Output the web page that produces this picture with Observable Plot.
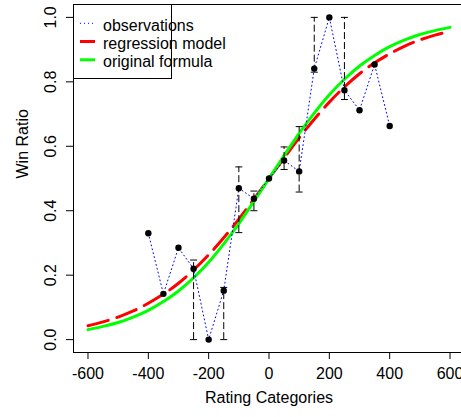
<!DOCTYPE html>
<html><head><meta charset="utf-8">
<script src="https://cdn.jsdelivr.net/npm/d3@7"></script>
<script src="https://cdn.jsdelivr.net/npm/@observablehq/plot@0.6"></script>
<style>body{margin:0;background:#fff}</style>
</head><body><div id="chart"></div>
<script>
// observations
const ratingCategories = [-400,-350,-300,-250,-200,-150,-100,-50,0,50,100,150,200,250,300,350,400];
const winRatio = [0.33,0.142,0.285,0.22,0.0,0.152,0.47,0.437,0.5,0.556,0.522,0.841,1.0,0.774,0.712,0.854,0.663];
// error bars
const errX = [-250,-150,-100,-50,50,100,150,250];
const errLow = [0.0,0.0,0.332,0.40,0.528,0.458,0.83,0.745];
const errHigh = [0.247,0.162,0.536,0.461,0.598,0.661,1.0,1.0];
// model curves
const curveX = [-600,-550,-500,-450,-400,-350,-300,-250,-200,-150,-100,-50,0,50,100,150,200,250,300,350,400,450,500,550,600];
const regressionY = [0.043,0.055,0.070,0.089,0.113,0.141,0.175,0.216,0.263,0.316,0.374,0.436,0.5,0.564,0.626,0.684,0.737,0.784,0.825,0.859,0.887,0.911,0.930,0.945,0.957];
const formulaY = [0.031,0.041,0.053,0.070,0.091,0.118,0.151,0.192,0.240,0.297,0.360,0.429,0.5,0.571,0.640,0.703,0.760,0.808,0.849,0.882,0.909,0.930,0.947,0.959,0.969];
// axes
const xTicks = [-600,-400,-200,0,200,400,600];
const yTicks = [0,0.2,0.4,0.6,0.8,1.0];
const xTitle = "Rating Categories";
const yTitle = "Win Ratio";
const legendLabels = ["observations","regression model","original formula"];
const legendColors = ["#0000ff","#ff0000","#00ff00"];

const obs = ratingCategories.map((x,i)=>({x, y: winRatio[i]}));
const err = errX.map((x,i)=>({x, lo: errLow[i], hi: errHigh[i]}));
const reg = curveX.map((x,i)=>({x, y: regressionY[i]}));
const formula = curveX.map((x,i)=>({x, y: formulaY[i]}));
const capSymbol = {draw(ctx){ ctx.moveTo(-3.5,0); ctx.lineTo(3.5,0); }};

const plot = Plot.plot({
  width: 461, height: 417,
  marginLeft: 73, marginRight: -3, marginTop: 4, marginBottom: 65,
  style: {fontFamily: "'Liberation Sans', Arial, sans-serif", fontSize: "16px", background: "#fff", color: "#000"},
  x: {domain: [-648, 648]},
  y: {domain: [-0.04, 1.04]},
  marks: [
    Plot.line(reg, {x: "x", y: "y", stroke: "#ff0000", strokeWidth: 3, strokeDasharray: "21,9", strokeLinecap: "round", curve: "natural"}),
    Plot.line(formula, {x: "x", y: "y", stroke: "#00ff00", strokeWidth: 3, curve: "natural"}),
    Plot.line(obs, {x: "x", y: "y", stroke: "#0000ff", strokeWidth: 1, strokeDasharray: "1,3"}),
    Plot.ruleX(err, {x: "x", y1: "lo", y2: "hi", stroke: "black", strokeDasharray: "7,3"}),
    Plot.dot(err, {x: "x", y: "lo", symbol: capSymbol, stroke: "black", strokeWidth: 1, fill: "none"}),
    Plot.dot(err, {x: "x", y: "hi", symbol: capSymbol, stroke: "black", strokeWidth: 1, fill: "none"}),
    Plot.dot(obs, {x: "x", y: "y", r: 3.2, fill: "black"}),
    Plot.frame({stroke: "black"}),
    Plot.axisX({ticks: xTicks, tickSize: 7, tickPadding: 8, tickFormat: d => String(d), label: null}),
    Plot.axisY({ticks: yTicks, tickSize: 7, tickPadding: 11, tickRotate: -90, tickFormat: d3.format(".1f"), label: null}),
    Plot.text([xTitle], {frameAnchor: "bottom", dy: 50}),
    Plot.text([yTitle], {frameAnchor: "left", dx: -51, rotate: -90})
  ]
});

const svg = d3.select(plot);
const g = svg.append("g").attr("text-anchor", "start");
g.append("rect").attr("x", 73.5).attr("y", 4.5).attr("width", 98).attr("height", 74)
  .attr("fill", "white").attr("stroke", "black");
const rowY = [23.3, 41.5, 59.8];
const dashes = ["1,3", null, null];
const widths = [1, 3, 3];
legendLabels.forEach((lab, i) => {
  const ln = g.append("line").attr("x1", 80).attr("x2", 95).attr("y1", rowY[i]).attr("y2", rowY[i])
    .attr("stroke", legendColors[i]).attr("stroke-width", widths[i]);
  if (dashes[i]) ln.attr("stroke-dasharray", dashes[i]);
  g.append("text").attr("x", 103).attr("y", rowY[i] + 7.2).attr("fill", "black")
    .attr("text-anchor", "start").style("font-size", "16px").text(lab);
});
document.getElementById("chart").appendChild(plot);
</script>
</body></html>
